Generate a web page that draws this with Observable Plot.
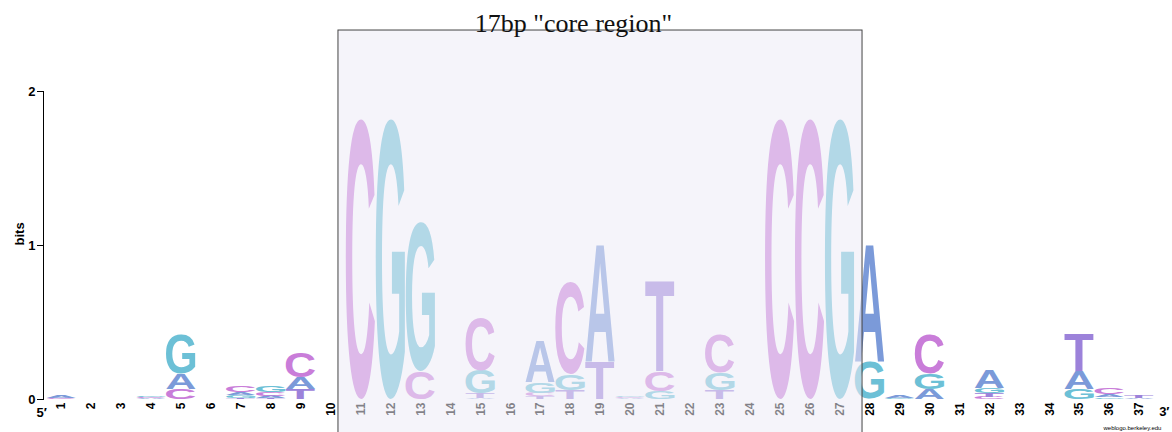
<!DOCTYPE html>
<html>
<head>
<meta charset="utf-8">
<script src="https://cdn.jsdelivr.net/npm/d3@7"></script>
<script src="https://cdn.jsdelivr.net/npm/@observablehq/plot@0.6"></script>
<style>
  html, body { margin: 0; padding: 0; background: white; }
  #chart svg { display: block; }
</style>
</head>
<body>
<div id="chart"></div>
<script>
// ---- data (bits per base at each position) ----
const positions = d3.range(1, 38);
const bitsA = [0.012,0,0,0.004,0.10,0,0.02,0.012,0.072,0,
               0,0,0,0,0.004,0,0.27,0,0.77,0.004,
               0,0,0,0,0,0,0,0.77,0.012,0.065,
               0,0.12,0,0,0.12,0.02,0.004];
const bitsC = [0.008,0,0,0.008,0.065,0,0.04,0.025,0.16,0,
               1.82,0,0.18,0,0.34,0,0.022,0.60,0,0.006,
               0.13,0,0.25,0,1.82,1.82,0,0,0,0.26,
               0,0.012,0,0,0,0.04,0];
const bitsG = [0,0,0,0.010,0.26,0,0.015,0.04,0,0,
               0,1.82,0.97,0,0.15,0,0.07,0.10,0,0.01,
               0.05,0,0.11,0,0,0,1.82,0.24,0.006,0.10,
               0,0.035,0,0,0.065,0.01,0];
const bitsT = [0,0,0,0,0,0,0.008,0.005,0.068,0,
               0,0,0,0,0.03,0,0.018,0.06,0.24,0,
               0.59,0,0.06,0,0,0,0,0,0,0,
               0,0.025,0,0,0.24,0,0.015];
const yTicks = [0, 1, 2];
const coreRegion = {start: 11, end: 27, top: 2.396, title: '17bp "core region"'};

const baseColor = {A: "#7b9ad9", C: "#c97dd9", G: "#6cc0d6", T: "#9c82da"};
const bases = {A: bitsA, C: bitsC, G: bitsG, T: bitsT};

// stack: smallest at bottom, largest on top
const letters = [];
positions.forEach((p, i) => {
  const col = Object.keys(bases).map(b => ({base: b, h: bases[b][i]})).filter(d => d.h > 0)
    .sort((a, b) => a.h - b.h);
  let y = 0;
  for (const d of col) { letters.push({pos: p, base: d.base, y1: y, y2: y + d.h}); y += d.h; }
});

// glyph metrics for stretching letters to fill their cell
const FONT = "'Liberation Sans', Arial, Helvetica, sans-serif";
const cv = document.createElement("canvas").getContext("2d");
cv.font = `bold 100px ${FONT}`;
cv.textAlign = "left";
cv.textBaseline = "alphabetic";
const metrics = {};
for (const b of "ACGT") {
  const m = cv.measureText(b);
  const left = m.actualBoundingBoxLeft, right = m.actualBoundingBoxRight;
  const asc = m.actualBoundingBoxAscent, desc = m.actualBoundingBoxDescent;
  metrics[b] = {left, asc, w: (left + right) || 70, h: (asc + desc) || 72};
}

const logoMark = Plot.rect(letters, {
  x1: d => d.pos - 0.5, x2: d => d.pos + 0.5, y1: "y1", y2: "y2",
  render(index, scales, values) {
    const {x1, x2, y1, y2} = values;
    const g = d3.create("svg:g").attr("text-anchor", "start");
    for (const i of index) {
      const d = letters[i], m = metrics[d.base];
      const w = Math.abs(x2[i] - x1[i]) - 0.6, h = Math.abs(y1[i] - y2[i]);
      const x0 = Math.min(x1[i], x2[i]) + 0.3, yt = Math.min(y1[i], y2[i]);
      g.append("text")
        .attr("text-anchor", "start")
        .attr("transform", `translate(${x0},${yt}) scale(${w / m.w},${h / m.h}) translate(${m.left},${m.asc})`)
        .attr("font-family", FONT).attr("font-weight", "bold").attr("font-size", 100)
        .attr("fill", baseColor[d.base]).text(d.base);
    }
    return g.node();
  }
});

const chart = Plot.plot({
  width: 1172, height: 432,
  marginLeft: 43, marginRight: 18, marginTop: 91, marginBottom: 33,
  style: {fontFamily: FONT, background: "white", overflow: "visible"},
  x: {domain: [0.4, 37.5], axis: null},
  y: {domain: [0, 2], axis: null},
  marks: [
    logoMark,
    Plot.frame({anchor: "left", stroke: "black"}),
    Plot.axisY({ticks: yTicks, tickSize: 6, tickPadding: 2, fontSize: 13, fontWeight: "bold", label: null, tickFormat: d3.format("d")}),
    Plot.text(["bits"], {frameAnchor: "left", dx: -24, rotate: -90, fontSize: 13, fontWeight: "bold", fill: "black"}),
    Plot.text(positions, {x: d => d, y: 0, text: d => String(d), rotate: -90, textAnchor: "end", lineAnchor: "middle", dy: 3, fontSize: 12, fontWeight: "bold", fill: "black"}),
    Plot.text(["5′"], {frameAnchor: "bottom-left", dx: -7, dy: 17, fontSize: 13, fontWeight: "bold", fill: "black"}),
    Plot.text(["3′"], {frameAnchor: "bottom-right", dx: 15, dy: 16, fontSize: 13, fontWeight: "bold", fill: "black"}),
    Plot.text(["weblogo.berkeley.edu"], {frameAnchor: "bottom-right", dx: -51, dy: 30, textAnchor: "start", fontSize: 6, fill: "black"}),
    Plot.rect([coreRegion], {x1: d => d.start - 0.75, x2: d => d.end + 0.75, y1: -0.5, y2: d => d.top,
      fill: "#ecebf6", fillOpacity: 0.55, stroke: "#444", strokeWidth: 1}),
    Plot.text([coreRegion], {x: d => (d.start + d.end) / 2, y: d => d.top, text: "title", dx: -27, dy: 1,
      lineAnchor: "bottom", fontFamily: "'Liberation Serif', 'DejaVu Serif', serif", fontSize: 26, fill: "#111"})
  ]
});
document.getElementById("chart").appendChild(chart);
</script>
</body>
</html>
